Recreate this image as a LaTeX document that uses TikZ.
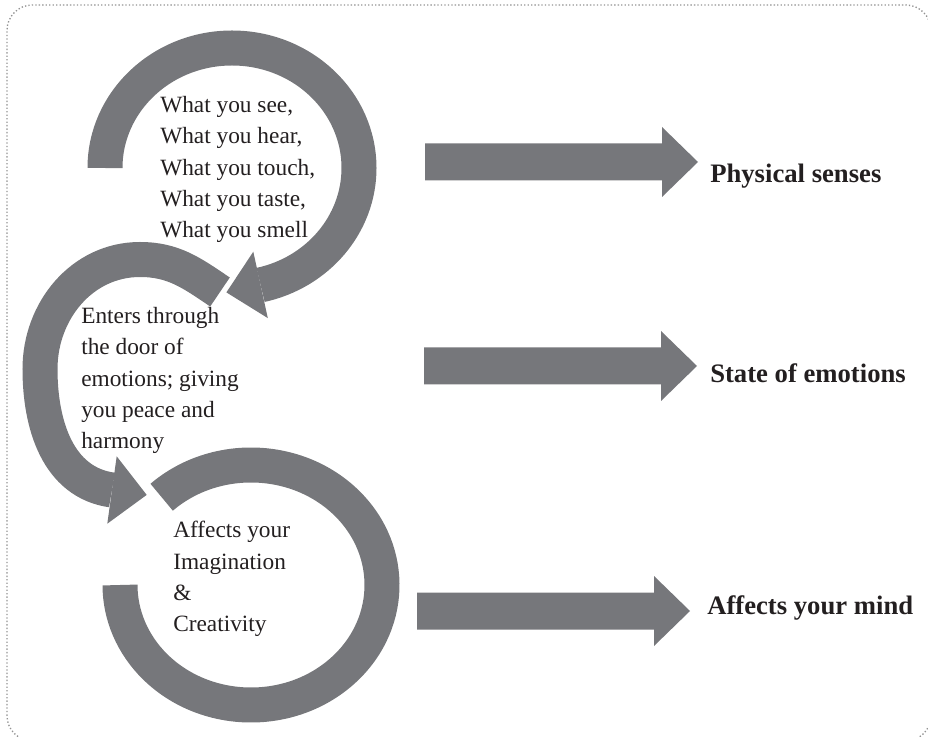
\documentclass[tikz,border=0pt]{standalone}
\usepackage{fontspec}
\setmainfont{Liberation Serif}
\usetikzlibrary{positioning}

\definecolor{ringgray}{HTML}{76777B}
\definecolor{inkblack}{HTML}{231F20}

\tikzset{
    ring/.style={draw=ringgray, line width=26.25pt},
    headfill/.style={fill=ringgray},
    inside/.style={inner sep=0pt, anchor=north west, align=left, text=inkblack,
        font=\fontsize{17.5}{23.5}\selectfont},
    outcome/.style={inner sep=0pt, anchor=base west, text=inkblack,
        font=\fontsize{20}{24}\selectfont\bfseries}
}

\begin{document}
\begin{tikzpicture}[x=0.75pt, y=0.75pt]
    \clip (0,0) rectangle (928,736);
    \draw[gray!85, line width=1pt, dash pattern=on 1pt off 1.6pt, rounded corners=19pt]
        (7,-5) rectangle (931,731);

    % the three rings
    \coordinate (r1) at (105,568);
    \coordinate (r2) at (220,444);
    \coordinate (r3) at (161.66,238.76);
    \draw[ring] (r1) arc[start angle=180, end angle=-77, x radius=127, y radius=120];
    \draw[ring] (r2) to[out=146, in=0] (140,476.5) to[out=180, in=90] (40,367)
        to[out=270, in=172] (112,246);
    \draw[ring] (r3) arc[start angle=133, end angle=-180, x radius=131, y radius=120];

    \fill[headfill] (267.8,417.9) -- (226.4,443.6) -- (253.3,484.3) -- cycle;
    \fill[headfill] (116.7,279.7) -- (146.7,241.1) -- (107.3,212.3) -- cycle;

    \node[inside] (senses) at (160,640)
        {What you see,\\What you hear,\\What you touch,\\What you taste,\\What you smell};
    \node[inside] (door) at (81,429)
        {Enters through\\the door of\\emotions; giving\\you peace and\\harmony};
    \node[inside] (imagine) at (173,215)
        {Affects your\\Imagination\\\&\\Creativity};

    % block arrows to the outcomes
    \foreach \x/\y/\lx/\ly/\txt [count=\i] in {425/574/710/553/Physical senses,
        424/370/710/353/State of emotions, 417/125/707/122/Affects your mind} {
        \coordinate (a\i) at (\x,\y);
        \fill[headfill] (a\i) ++(0,18.5) -- ++(237,0) -- ++(0,16.5) -- ++(36,-35)
            -- ++(-36,-35) -- ++(0,16.5) -- ++(-237,0) -- cycle;
        \node[outcome] (out\i) at (\lx,\ly) {\txt};
    }
\end{tikzpicture}
\end{document}
